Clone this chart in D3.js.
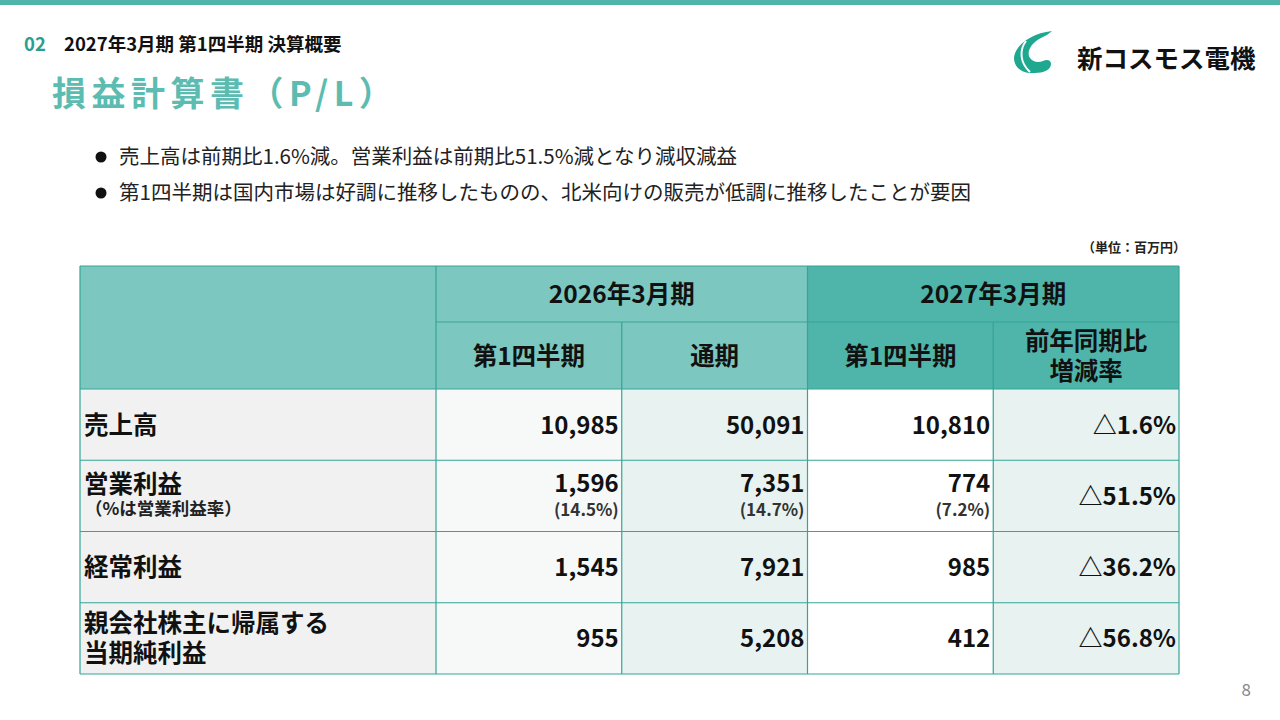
<!DOCTYPE html>
<html>
<head>
<meta charset="utf-8">
<script src="https://cdn.jsdelivr.net/npm/d3@7"></script>
<style>
  body { margin: 0; background: #fff; }
  svg { display: block; font-family: "Noto Sans CJK JP", "Noto Sans", sans-serif; }
</style>
</head>
<body>
<script>
// chart data
var rowLabels = [["売上高"], ["営業利益"], ["経常利益"], ["親会社株主に帰属する", "当期純利益"]];
var rowNotes = [null, "（%は営業利益率）", null, null];
var groupLabels = ["2026年3月期", "2027年3月期"];
var columnLabels = [["第1四半期"], ["通期"], ["第1四半期"], ["前年同期比", "増減率"]];
var q1Prev = [10985, 1596, 1545, 955];
var fyPrev = [50091, 7351, 7921, 5208];
var q1Curr = [10810, 774, 985, 412];
var yoyRate = [-1.6, -51.5, -36.2, -56.8];
var marginQ1Prev = [null, 14.5, null, null];
var marginFyPrev = [null, 14.7, null, null];
var marginQ1Curr = [null, 7.2, null, null];
var bullets = [
    "売上高は前期比1.6%減。営業利益は前期比51.5%減となり減収減益",
    "第1四半期は国内市場は好調に推移したものの、北米向けの販売が低調に推移したことが要因"
];

(function() {
    var W = 1280, H = 720;
    var teal = "#4fb4a9", tealLight = "#7cc7bf", line = "#35a596";
    var svg = d3.select("body").append("svg").attr("width", W).attr("height", H);

    // top bar
    svg.append("rect").attr("x", 0).attr("y", 0).attr("width", W).attr("height", 5).attr("fill", teal);

    // section header
    svg.append("text").attr("x", 24).attr("y", 51).attr("font-size", 18.5).attr("font-weight", 700)
        .attr("fill", "#2b9e92").text("02");
    svg.append("text").attr("x", 64).attr("y", 51).attr("font-size", 18.5).attr("font-weight", 700)
        .attr("fill", "#111").text("2027年3月期 第1四半期 決算概要");
    svg.append("text").attr("x", 52).attr("y", 106).attr("font-size", 34).attr("font-weight", 700)
        .attr("letter-spacing", 5.5).attr("fill", "#5cbcb1").text("損益計算書（P/L）");

    // logo
    var logo = svg.append("g").attr("transform", "translate(1011,28)");
    logo.append("path").attr("fill", "#1fa890")
        .attr("d", "M41 3 C22 5 4 16 3 30 C3 40 12 46 24 45 C32 45 40 42 40 36 C40 32 36 31 32 33 " +
                   "C27 35 22 34 19 30 C15 24 20 15 30 10 C34 8 38 6 41 3 Z");
    logo.append("path").attr("fill", "none").attr("stroke", "#fff").attr("stroke-width", 2)
        .attr("d", "M15 13 C8 22 9 35 19 44");
    svg.append("text").attr("x", 1077).attr("y", 68).attr("font-size", 25.5).attr("font-weight", 700)
        .attr("fill", "#111").text("新コスモス電機");

    // bullets
    var by = d3.scaleBand().domain(d3.range(bullets.length)).range([139, 211]);
    var bg = svg.selectAll("g.bullet").data(bullets).enter().append("g").attr("class", "bullet")
        .attr("transform", function(d, i) { return "translate(0," + (by(i) + by.bandwidth() / 2) + ")"; });
    bg.append("circle").attr("cx", 101).attr("cy", 0).attr("r", 5.5).attr("fill", "#111");
    bg.append("text").attr("x", 119).attr("y", 7).attr("font-size", 20.5).attr("fill", "#222")
        .text(function(d) { return d; });

    // unit
    svg.append("text").attr("x", 1186).attr("y", 252).attr("text-anchor", "end").attr("font-size", 13)
        .attr("font-weight", 700).attr("fill", "#222").text("（単位：百万円）");

    // table geometry via scales
    var left = 80, labelRight = 436, right = 1179;
    var top = 266, groupBottom = 322, headBottom = 389, bottom = 674;
    var x = d3.scaleBand().domain(d3.range(4)).range([labelRight, right]);
    var y = d3.scaleBand().domain(d3.range(rowLabels.length)).range([headBottom, bottom]);
    var cw = x.bandwidth(), rh = y.bandwidth();

    var numFmt = d3.format(",");
    var series = [q1Prev, fyPrev, q1Curr, yoyRate];
    var margins = [marginQ1Prev, marginFyPrev, marginQ1Curr, null];
    var colFill = ["#f7f9f9", "#e8f2f1", "#ffffff", "#e8f2f1"];

    // header backgrounds
    svg.append("rect").attr("x", left).attr("y", top).attr("width", x(2) - left).attr("height", headBottom - top)
        .attr("fill", tealLight);
    svg.append("rect").attr("x", x(2)).attr("y", top).attr("width", right - x(2)).attr("height", headBottom - top)
        .attr("fill", teal);

    // body backgrounds
    svg.append("rect").attr("x", left).attr("y", headBottom).attr("width", labelRight - left)
        .attr("height", bottom - headBottom).attr("fill", "#f1f1f1");
    svg.selectAll("rect.col").data(colFill).enter().append("rect").attr("class", "col")
        .attr("x", function(d, i) { return x(i); }).attr("y", headBottom)
        .attr("width", cw).attr("height", bottom - headBottom).attr("fill", function(d) { return d; });

    // group headers
    svg.selectAll("text.group").data(groupLabels).enter().append("text").attr("class", "group")
        .attr("x", function(d, i) { return x(i * 2) + cw; }).attr("y", (top + groupBottom) / 2 + 9)
        .attr("text-anchor", "middle").attr("font-size", 24.5).attr("font-weight", 700).attr("fill", "#111")
        .text(function(d) { return d; });

    // column headers
    var ch = svg.selectAll("text.colhead").data(columnLabels).enter().append("text").attr("class", "colhead")
        .attr("text-anchor", "middle").attr("font-size", 24.5).attr("font-weight", 700).attr("fill", "#111");
    ch.selectAll("tspan").data(function(d, i) {
        return d.map(function(t, k) { return { t: t, i: i, k: k, n: d.length }; });
    }).enter().append("tspan")
        .attr("x", function(d) { return x(d.i) + cw / 2; })
        .attr("y", function(d) { return (groupBottom + headBottom) / 2 + 9 + (d.k - (d.n - 1) / 2) * 30; })
        .text(function(d) { return d.t; });

    // row labels
    var rl = svg.selectAll("g.rowlabel").data(rowLabels).enter().append("g").attr("class", "rowlabel")
        .attr("transform", function(d, i) { return "translate(" + (left + 4) + "," + (y(i) + rh / 2) + ")"; });
    rl.each(function(d, i) {
        var g = d3.select(this);
        var note = rowNotes[i];
        var offset = note ? -12 : 0;
        d.forEach(function(t, k) {
            g.append("text").attr("x", 0).attr("y", 9 + offset + (k - (d.length - 1) / 2) * 30)
                .attr("font-size", 24.5).attr("font-weight", 700).attr("fill", "#111").text(t);
        });
        if (note) {
            g.append("text").attr("x", 1).attr("y", 19).attr("font-size", 17.5).attr("font-weight", 700)
                .attr("fill", "#222").text(note);
        }
    });

    // values
    series.forEach(function(vals, c) {
        svg.selectAll("text.v" + c).data(vals).enter().append("text").attr("class", "v" + c)
            .attr("x", x(c) + cw - 3)
            .attr("y", function(d, r) {
                var m = margins[c] && margins[c][r] != null;
                return y(r) + rh / 2 + (m ? -3.5 : 9);
            })
            .attr("text-anchor", "end").attr("font-size", 24).attr("font-weight", 700).attr("fill", "#111")
            .text(function(d) { return c === 3 ? "△" + Math.abs(d).toFixed(1) + "%" : numFmt(d); });
        if (margins[c]) {
            svg.selectAll("text.m" + c).data(margins[c]).enter()
                .filter(function(d) { return d != null; })
                .append("text").attr("class", "m" + c)
                .attr("x", x(c) + cw - 3)
                .attr("y", function(d) { return y(margins[c].indexOf(d)) + rh / 2 + 20; })
                .attr("text-anchor", "end").attr("font-size", 17).attr("font-weight", 700).attr("fill", "#333")
                .text(function(d) { return "(" + d.toFixed(1) + "%)"; });
        }
    });

    // grid lines
    var hLines = [top, headBottom].concat(y.domain().map(function(r) { return y(r) + rh; }));
    svg.selectAll("line.h").data(hLines).enter().append("line").attr("class", "h")
        .attr("x1", left).attr("x2", right).attr("y1", function(d) { return d; }).attr("y2", function(d) { return d; })
        .attr("stroke", line).attr("stroke-width", 1.2);
    svg.append("line").attr("x1", labelRight).attr("x2", right).attr("y1", groupBottom).attr("y2", groupBottom)
        .attr("stroke", line).attr("stroke-width", 1.2);
    var vLines = [
        { x: left, y1: top }, { x: labelRight, y1: top }, { x: x(1), y1: groupBottom },
        { x: x(2), y1: top }, { x: x(3), y1: groupBottom }, { x: right, y1: top }
    ];
    svg.selectAll("line.v").data(vLines).enter().append("line").attr("class", "v")
        .attr("x1", function(d) { return d.x; }).attr("x2", function(d) { return d.x; })
        .attr("y1", function(d) { return d.y1; }).attr("y2", bottom)
        .attr("stroke", line).attr("stroke-width", 1.2);

    // page number
    svg.append("text").attr("x", 1251).attr("y", 696).attr("text-anchor", "end").attr("font-size", 17)
        .attr("fill", "#888").text("8");
}());
</script>
</body>
</html>
